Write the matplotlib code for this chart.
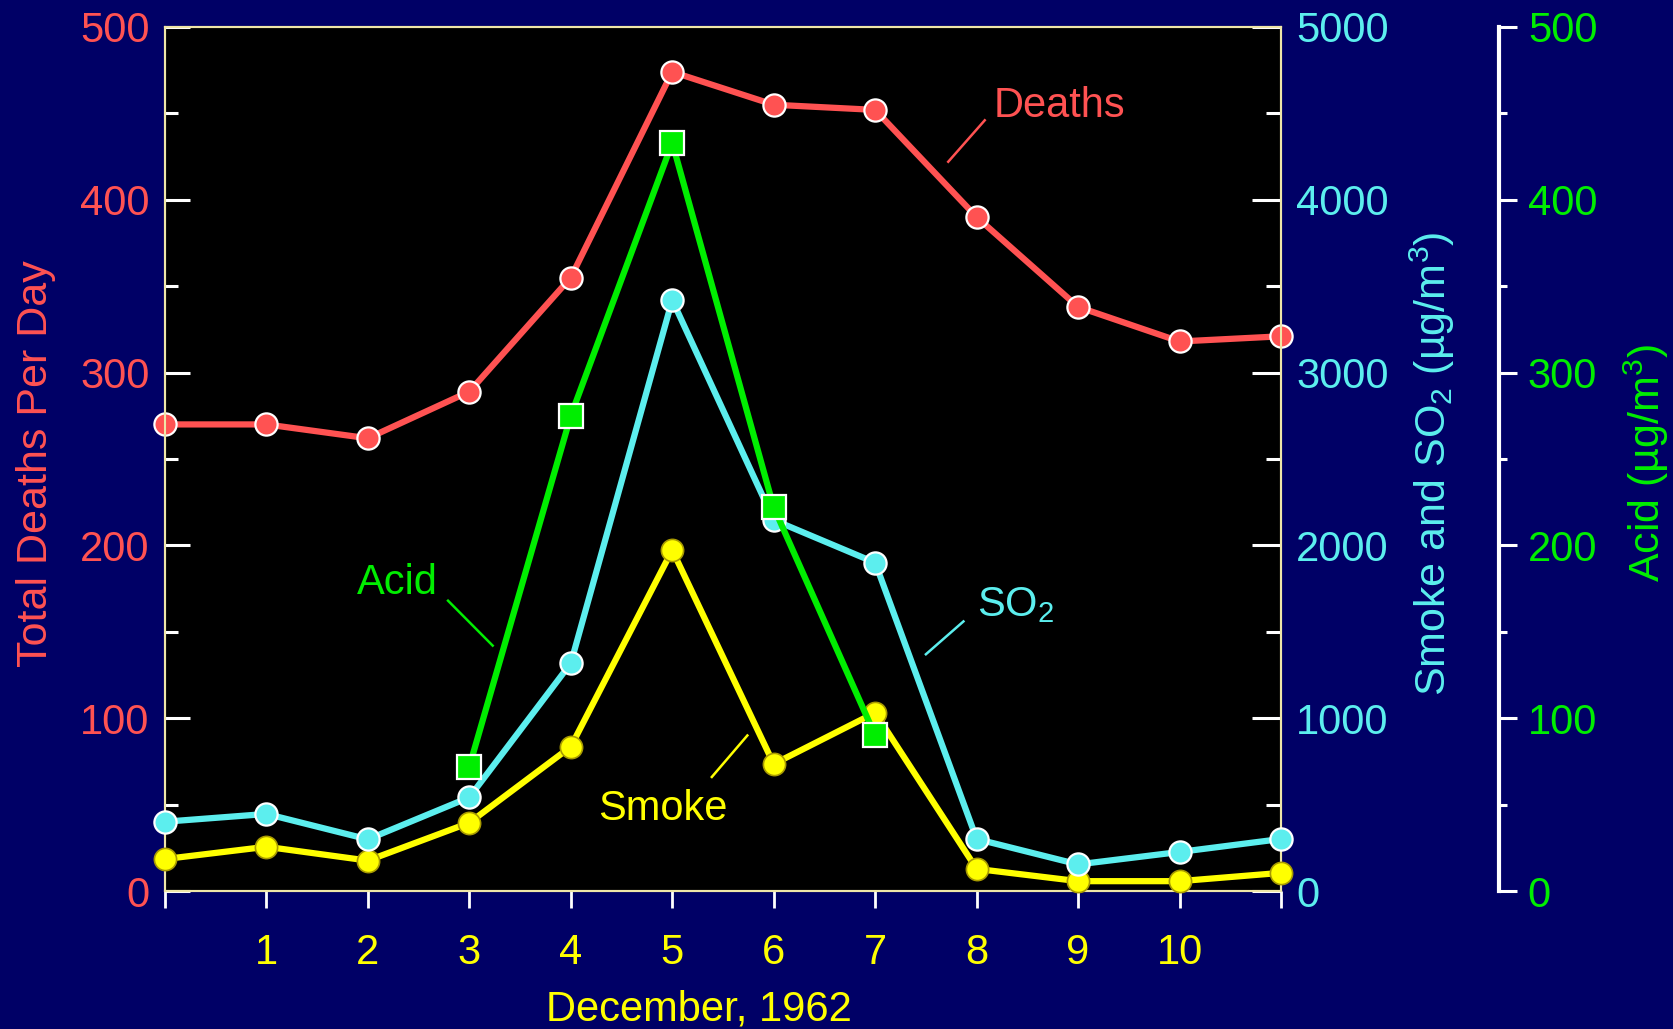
import matplotlib
matplotlib.use("Agg")
import matplotlib.pyplot as plt
from matplotlib.ticker import MultipleLocator, FixedLocator

plt.rcParams['font.family'] = ['Liberation Sans', 'DejaVu Sans']
plt.rcParams['mathtext.fontset'] = 'custom'
plt.rcParams['mathtext.rm'] = 'Liberation Sans'
plt.rcParams['mathtext.default'] = 'regular'

# day index (0 = 30 Nov ... 11 = 11 Dec)
days = list(range(12))
day_labels = ['', '1', '2', '3', '4', '5', '6', '7', '8', '9', '10', '']
deaths = [270, 270, 262, 289, 355, 474, 455, 452, 390, 338, 318, 321]
so2 = [401, 446, 299, 542, 1318, 3420, 2147, 1900, 301, 154, 226, 301]
smoke = [185, 256, 176, 395, 835, 1973, 735, 1032, 128, 57, 57, 105]
acid_days = [3, 4, 5, 6, 7]
acid = [72, 275, 433, 222, 90]

navy = '#000066'
red = '#ff5252'
cyan = '#5ceeee'
yellow = '#ffff00'
green = '#00ee00'
cream = '#efe6a8'

fig = plt.figure(figsize=(16.73, 10.29), dpi=100, facecolor=navy)
ax1 = fig.add_axes([0.0986, 0.1341, 0.6671, 0.8397])
ax1.set_facecolor('black')
ax2 = ax1.twinx()
ax3 = ax1.twinx()

# deaths
ax1.plot(days, deaths, color=red, lw=4.5, marker='o', ms=16, mfc=red,
         mec='white', mew=1.6, clip_on=False, zorder=3)
ax1.set_xlim(0, 11)
ax1.set_ylim(0, 500)

# smoke and SO2
ax2.plot(days, smoke, color=yellow, lw=4.5, marker='o', ms=16, mfc=yellow,
         mec='#a89a00', mew=1.2, clip_on=False, zorder=3)
ax2.plot(days, so2, color=cyan, lw=4.5, marker='o', ms=16, mfc=cyan,
         mec='white', mew=1.6, clip_on=False, zorder=3)
ax2.set_ylim(0, 5000)

# acid
ax3.plot(acid_days, acid, color=green, lw=4.5, marker='s', ms=17.5, mfc=green,
         mec='white', mew=1.6, clip_on=False, zorder=3)
ax3.set_ylim(0, 500)

# spines
for ax in (ax1, ax2):
    for s in ax.spines.values():
        s.set_color(cream)
        s.set_linewidth(1.5)
for name in ('left', 'top', 'bottom'):
    ax3.spines[name].set_visible(False)
ax3.spines['right'].set_position(('axes', 1.195))
ax3.spines['right'].set_color('white')
ax3.spines['right'].set_linewidth(3)

# ticks
ax1.xaxis.set_major_locator(FixedLocator(days))
ax1.set_xticklabels(day_labels)
ax1.tick_params(axis='x', direction='out', length=12, width=2, color='white',
                labelcolor=yellow, labelsize=30, pad=18)

ax1.yaxis.set_major_locator(MultipleLocator(100))
ax1.yaxis.set_minor_locator(MultipleLocator(50))
ax1.tick_params(axis='y', which='major', direction='in', length=18, width=2.2,
                color='white', labelcolor=red, labelsize=30, pad=11)
ax1.tick_params(axis='y', which='minor', direction='in', length=9, width=2.2,
                color='white')

ax2.yaxis.set_major_locator(MultipleLocator(1000))
ax2.yaxis.set_minor_locator(MultipleLocator(500))
ax2.tick_params(axis='y', which='major', direction='in', length=21, width=2.2,
                color='white', labelcolor=cyan, labelsize=30, pad=11)
ax2.tick_params(axis='y', which='minor', direction='in', length=11, width=2.2,
                color='white')

ax3.yaxis.set_major_locator(MultipleLocator(100))
ax3.yaxis.set_minor_locator(MultipleLocator(50))
ax3.tick_params(axis='y', which='major', direction='out', length=13, width=2.2,
                color='white', labelcolor=green, labelsize=30, pad=8)
ax3.tick_params(axis='y', which='minor', direction='out', length=6, width=2.2,
                color='white')

# axis labels
ax1.set_xlabel('December, 1962', color=yellow, fontsize=30)
ax1.xaxis.set_label_coords(0.4785, -0.114)
ax1.set_ylabel('Total Deaths Per Day', color=red, fontsize=31)
ax1.yaxis.set_label_coords(-0.098, 0.495)
ax2.set_ylabel('Smoke and SO$_2$ (µg/m$^3$)', color=cyan, fontsize=31)
ax2.yaxis.set_label_coords(1.113, 0.495)
ax3.set_ylabel('Acid (µg/m$^3$)', color=green, fontsize=31)
ax3.yaxis.set_label_coords(1.305, 0.495)

# series labels with leader lines
ax1.text(8.82, 448, 'Deaths', color=red, fontsize=30, ha='center', va='baseline')
ax1.plot([8.08, 7.72], [446, 422], color=red, lw=1.8)
ax1.text(2.29, 172, 'Acid', color=green, fontsize=30, ha='center', va='baseline')
ax1.plot([2.79, 3.23], [168, 142], color=green, lw=1.8)
ax1.text(8.38, 159, 'SO$_2$', color=cyan, fontsize=30, ha='center', va='baseline')
ax1.plot([7.87, 7.50], [156, 137], color=cyan, lw=1.8)
ax1.text(4.91, 41, 'Smoke', color=yellow, fontsize=30, ha='center', va='baseline')
ax1.plot([5.74, 5.39], [90, 66], color=yellow, lw=1.8)

fig.savefig('out.png', dpi=100, facecolor=navy)
